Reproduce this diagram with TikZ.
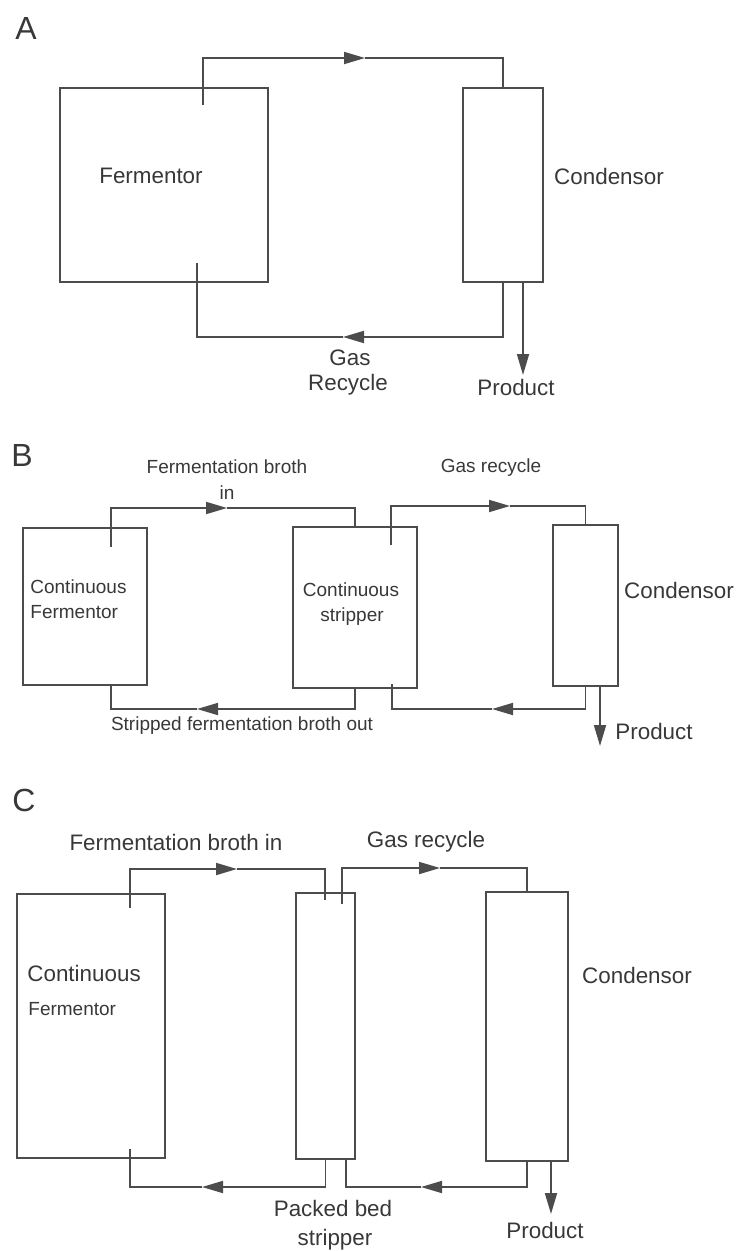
\documentclass[tikz,border=0pt]{standalone}
\usepackage{fontspec}
\setmainfont{Liberation Sans}
\usetikzlibrary{arrows.meta}
\definecolor{ink}{gray}{0.3}
\definecolor{txt}{gray}{0.22}
\tikzset{
vessel/.style={draw=ink,line width=0.9pt,inner sep=0pt},
pipe/.style={draw=ink,line width=0.9pt},
flow/.style={pipe,-{Triangle[length=10.5pt,width=6pt]}},
lbl/.style={text=txt,inner sep=0pt,font=\fontsize{11.2}{13}\selectfont},
slbl/.style={text=txt,inner sep=0pt,font=\fontsize{9.5}{11}\selectfont},
panel/.style={text=txt,inner sep=0pt,font=\fontsize{16}{18}\selectfont}
}
\begin{document}
\begin{tikzpicture}[x=0.5pt,y=-0.5pt]
\useasboundingbox(0,0)rectangle(740,1251);
\foreach \p/\x/\y in {A/26/28,B/22/455,C/24/800}{\node[panel](lab\p)at(\x,\y){\p};}
\node[vessel,minimum width=104pt,minimum height=97pt](fermA)at(164,185){};
\node[vessel,minimum width=40pt,minimum height=97pt](condA)at(503,185){};
\node[lbl](txfermA)at(151,176){Fermentor};
\node[lbl](txcondA)at(609,176){Condensor};
\node[lbl](txgasA)at(350,358){Gas};
\node[lbl](txrecA)at(348,385){Recycle};
\node[lbl](txprodA)at(516,387){Product};
\coordinate(fermA-top)at(203,105);
\coordinate(fermA-bot)at(197,263);
\coordinate(tipA1)at(365,58);
\coordinate(tipA2)at(343,337);
\coordinate(prodA)at(523,375);
\draw[flow](fermA-top)|-(tipA1);
\draw[pipe](tipA1)-|(condA.north);
\draw[flow](condA.south)|-(tipA2);
\draw[pipe](tipA2)-|(fermA-bot);
\draw[flow](condA.south-|prodA)--(prodA);
\node[vessel,minimum width=62pt,minimum height=78.5pt](fermB)at(85,606.5){};
\node[vessel,minimum width=62pt,minimum height=80.5pt](stripB)at(355,607.5){};
\node[vessel,minimum width=32.5pt,minimum height=80.5pt](condB)at(585.5,605.5){};
\node[slbl,anchor=west](txfermB1)at(30,587){Continuous};
\node[slbl,anchor=west](txfermB2)at(30,612){Fermentor};
\node[slbl](txstripB1)at(351,590){Continuous};
\node[slbl](txstripB2)at(352,617){stripper};
\node[lbl](txcondB)at(679,590){Condensor};
\node[slbl](txbrothB1)at(227,467){Fermentation broth};
\node[slbl](txbrothB2)at(227,493){in};
\node[slbl](txgasB)at(491,468){Gas recycle};
\node[slbl](txoutB)at(242,726){Stripped fermentation broth out};
\node[lbl](txprodB)at(654,731){Product};
\coordinate(fermB-top)at(111,547);
\coordinate(fermB-bot)at(111,685);
\coordinate(stripB-top)at(391,545);
\coordinate(stripB-bot)at(392,684);
\coordinate(tipB1)at(227,508);
\coordinate(tipB2)at(510,506);
\coordinate(tipB3)at(197,709);
\coordinate(tipB4)at(492,709);
\coordinate(prodB)at(600,746);
\draw[flow](fermB-top)|-(tipB1);
\draw[pipe](tipB1)-|(stripB.north);
\draw[flow](stripB-top)|-(tipB2);
\draw[pipe](tipB2)-|(condB.north);
\draw[flow](stripB.south)|-(tipB3);
\draw[pipe](tipB3)-|(fermB-bot);
\draw[flow](condB.south)|-(tipB4);
\draw[pipe](tipB4)-|(stripB-bot);
\draw[flow](condB.south-|prodB)--(prodB);
\node[vessel,minimum width=74pt,minimum height=132pt](fermC)at(91,1026){};
\node[vessel,minimum width=29.5pt,minimum height=133pt](stripC)at(325.5,1026){};
\node[vessel,minimum width=41pt,minimum height=134.5pt](condC)at(527,1026.5){};
\node[lbl,anchor=west](txfermC1)at(27,973){Continuous};
\node[slbl,anchor=west](txfermC2)at(28,1009){Fermentor};
\node[lbl](txcondC)at(637,975){Condensor};
\node[lbl](txbrothC)at(176,842){Fermentation broth in};
\node[lbl](txgasC)at(426,842){Gas recycle};
\node[lbl](txpackC1)at(333,1208){Packed bed};
\node[lbl](txpackC2)at(335,1240){stripper};
\node[lbl](txprodC)at(545,1230){Product};
\coordinate(fermC-top)at(130,908);
\coordinate(fermC-bot)at(130,1149);
\coordinate(stripC-in)at(325,900);
\coordinate(stripC-top)at(342,904);
\coordinate(stripC-bot)at(346,1159);
\coordinate(tipC1)at(237,869);
\coordinate(tipC2)at(440,868);
\coordinate(tipC3)at(202,1187);
\coordinate(tipC4)at(421,1187);
\coordinate(prodC)at(551,1214);
\draw[flow](fermC-top)|-(tipC1);
\draw[pipe](tipC1)-|(stripC-in);
\draw[flow](stripC-top)|-(tipC2);
\draw[pipe](tipC2)-|(condC.north);
\draw[flow](stripC.south)|-(tipC3);
\draw[pipe](tipC3)-|(fermC-bot);
\draw[flow](condC.south)|-(tipC4);
\draw[pipe](tipC4)-|(stripC-bot);
\draw[flow](condC.south-|prodC)--(prodC);
\end{tikzpicture}
\end{document}
